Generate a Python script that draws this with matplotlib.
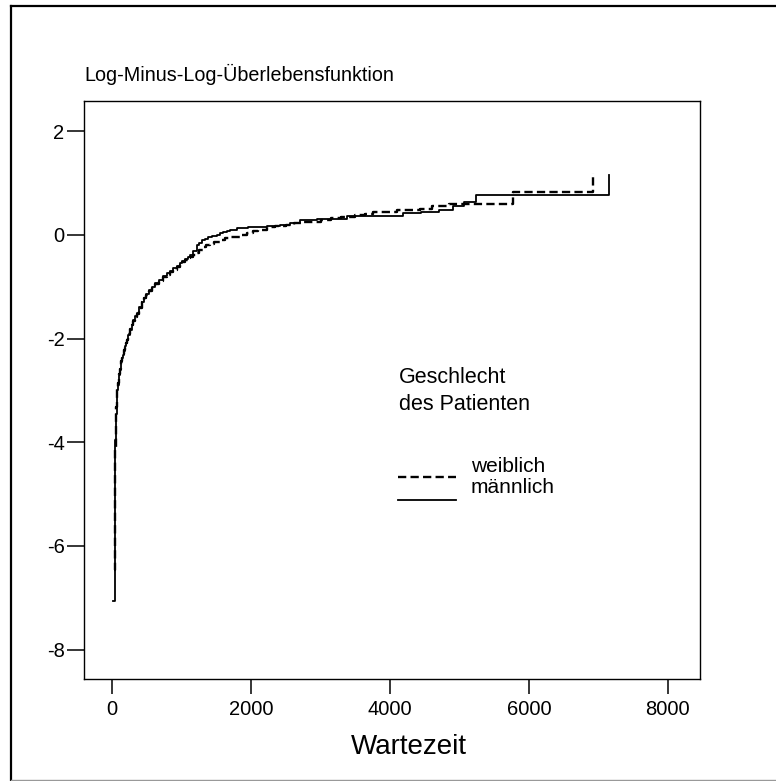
import matplotlib
matplotlib.use("Agg")
import matplotlib.pyplot as plt
from matplotlib.lines import Line2D

plt.rcParams["font.family"] = ["Liberation Sans", "DejaVu Sans"]

# Log-minus-log survival estimates, step functions (time of event, value after event)
weiblich_zeit = [28, 34, 38, 43, 48, 52, 56, 60, 65, 70, 75, 82, 90, 100, 111, 120,
                 130, 140, 150, 164, 178, 192, 207, 230, 255, 278, 300, 325, 350,
                 385, 423, 455, 490, 530, 567, 620, 680, 730, 783, 830, 880, 925,
                 975, 1010, 1050, 1085, 1119, 1160, 1200, 1250, 1300, 1350, 1400,
                 1470, 1551, 1620, 1700, 1850, 1935, 2020, 2100, 2223, 2350, 2500,
                 2620, 2750, 3000, 3150, 3300, 3500, 3640, 3759, 4100, 4431, 4600,
                 4850, 5775, 6927]
weiblich_wert = [-6.46, -5.5, -4.8, -4.15, -3.75, -3.6, -3.45, -3.32, -3.2, -3.07,
                 -2.95, -2.86, -2.78, -2.68, -2.58, -2.51, -2.44, -2.37, -2.30, -2.22,
                 -2.14, -2.08, -2.02, -1.92, -1.82, -1.74, -1.66, -1.59, -1.52, -1.41,
                 -1.30, -1.22, -1.15, -1.08, -1.02, -0.95, -0.88, -0.82, -0.77, -0.72,
                 -0.67, -0.62, -0.58, -0.53, -0.49, -0.45, -0.42, -0.38, -0.34, -0.29,
                 -0.24, -0.20, -0.17, -0.13, -0.096, -0.06, -0.03, 0.0, 0.03, 0.07,
                 0.10, 0.16, 0.18, 0.20, 0.23, 0.257, 0.29, 0.32, 0.35, 0.386, 0.41,
                 0.44, 0.48, 0.50, 0.55, 0.60, 0.82, 1.19]

maennlich_zeit = [10, 33, 36, 40, 44, 48, 55, 62, 67, 72, 80, 90, 100, 111, 120, 130,
                  140, 150, 164, 178, 192, 207, 230, 255, 278, 300, 325, 350, 385,
                  423, 455, 490, 530, 567, 620, 680, 730, 783, 830, 880, 925, 975,
                  1010, 1050, 1085, 1119, 1165, 1215, 1250, 1290, 1335, 1380, 1440,
                  1503, 1550, 1600, 1650, 1695, 1791, 1950, 2223, 2415, 2559, 2703,
                  2950, 3375, 4191, 4450, 4700, 4900, 5060, 5230, 7157]
maennlich_wert = [-7.07, -5.9, -5.0, -4.4, -3.95, -3.66, -3.45, -3.31, -3.15, -2.99,
                  -2.90, -2.80, -2.70, -2.60, -2.52, -2.45, -2.38, -2.31, -2.23, -2.15,
                  -2.09, -2.03, -1.93, -1.83, -1.74, -1.65, -1.57, -1.50, -1.39, -1.29,
                  -1.21, -1.14, -1.07, -1.00, -0.93, -0.86, -0.80, -0.74, -0.69, -0.64,
                  -0.59, -0.55, -0.50, -0.46, -0.42, -0.39, -0.30, -0.19, -0.15, -0.10,
                  -0.07, -0.04, -0.02, 0.00, 0.03, 0.05, 0.07, 0.096, 0.13, 0.15, 0.17,
                  0.20, 0.225, 0.29, 0.31, 0.366, 0.42, 0.45, 0.48, 0.55, 0.64, 0.77,
                  1.157]

x_ticks = [0, 2000, 4000, 6000, 8000]
y_ticks = [-8, -6, -4, -2, 0, 2]

W, H = 776, 781
fig = plt.figure(figsize=(W / 100, H / 100), dpi=100)


def fx(px):
    return px / W


def fy(py):
    return 1 - py / H


ax = fig.add_axes([fx(84), fy(678.7), fx(700) - fx(84), fy(100.7) - fy(678.7)])

dash = (0, (3.5, 1.8))
ax.step(weiblich_zeit, weiblich_wert, where="post", color="black", lw=1.7, linestyle=dash)
ax.step(maennlich_zeit, maennlich_wert, where="post", color="black", lw=1.3)

ax.set_xlim(-407, 8462)
ax.set_ylim(-8.56, 2.59)
ax.set_xticks(x_ticks)
ax.set_yticks(y_ticks)
ax.set_xticklabels([str(v) for v in x_ticks])
ax.set_yticklabels([str(v) for v in y_ticks])
ax.tick_params(axis="both", direction="out", width=1.1, colors="black", labelsize=14.5)
ax.tick_params(axis="x", length=11, pad=4)
ax.tick_params(axis="y", length=12, pad=2)
for s in ax.spines.values():
    s.set_linewidth(1.0)
    s.set_color("black")

fig.text(fx(84), fy(74), "Log-Minus-Log-Überlebensfunktion", fontsize=14.2,
         ha="left", va="center")
fig.text(fx(409), fy(747), "Wartezeit", fontsize=20, ha="center", va="center")

# legend block
fig.text(fx(399), fy(378), "Geschlecht", fontsize=15.5, ha="left", va="center")
fig.text(fx(399), fy(405), "des Patienten", fontsize=15.5, ha="left", va="center")
fig.add_artist(Line2D([fx(398), fx(456)], [fy(477), fy(477)], color="black",
                      lw=1.7, linestyle=dash))
fig.add_artist(Line2D([fx(398), fx(456)], [fy(500), fy(500)], color="black", lw=1.3))
fig.text(fx(471), fy(467), "weiblich", fontsize=15, ha="left", va="center")
fig.text(fx(471), fy(488), "männlich", fontsize=15, ha="left", va="center")

# outer frame
fig.add_artist(Line2D([fx(11), fx(11)], [fy(6), fy(780)], color="black", lw=1.6))
fig.add_artist(Line2D([fx(11), fx(776)], [fy(6), fy(6)], color="black", lw=1.6))
fig.add_artist(Line2D([fx(11), fx(776)], [fy(780), fy(780)], color="#999999", lw=1.0))

fig.savefig("out.png", dpi=100)
